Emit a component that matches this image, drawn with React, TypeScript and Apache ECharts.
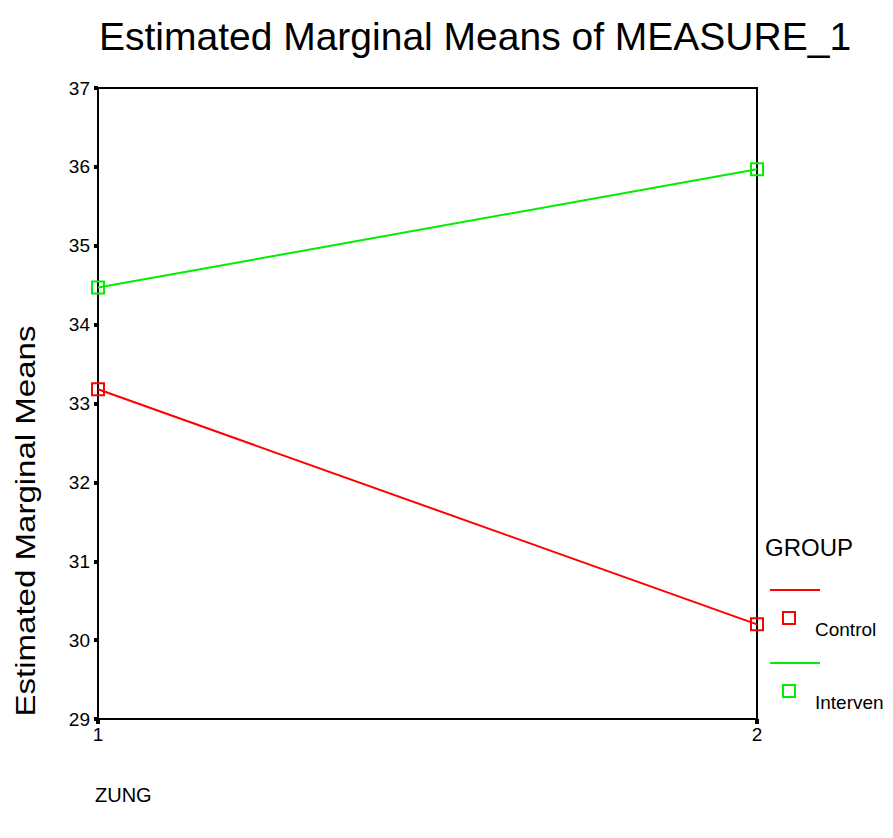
import React, { useEffect, useRef } from "react";
import * as echarts from "echarts";

const zungLevels = [1, 2];
const controlMeans = [33.18, 30.2];
const intervenMeans = [34.47, 35.97];
const yTicks = [29, 30, 31, 32, 33, 34, 35, 36, 37];
const groupNames = ["Control", "Interven"];
const groupColors = ["#ff0000", "#00ee00"];

const FONT = "'Liberation Sans', Arial, sans-serif";

export default function App() {
  const ref = useRef<HTMLDivElement>(null);
  useEffect(() => {
    if (!ref.current) return;
    const chart = echarts.init(ref.current, null, { renderer: "svg" });
    const seriesData = [controlMeans, intervenMeans];
    const legendGraphics: any[] = [
      {
        type: "text",
        left: 765,
        top: 535,
        style: { text: "GROUP", font: `24px ${FONT}`, fill: "#000" },
      },
    ];
    groupNames.forEach((g, i) => {
      const base = 590 + i * 73;
      legendGraphics.push(
        {
          type: "line",
          shape: { x1: 770, y1: base, x2: 820, y2: base },
          style: { stroke: groupColors[i], lineWidth: 2 },
        },
        {
          type: "rect",
          shape: { x: 783, y: base + 22, width: 12, height: 12 },
          style: { stroke: groupColors[i], fill: "none", lineWidth: 2 },
        },
        {
          type: "text",
          left: 815,
          top: base + 30,
          style: { text: g, font: `19px ${FONT}`, fill: "#000" },
        }
      );
    });

    chart.setOption({
      animation: false,
      backgroundColor: "#fff",
      title: {
        text: "Estimated Marginal Means of MEASURE_1",
        left: 470,
        textAlign: "center",
        top: 12,
        textStyle: { fontFamily: FONT, fontSize: 39, fontWeight: "normal", color: "#000" },
      },
      grid: {
        left: 98,
        right: 136,
        top: 88,
        bottom: 119,
        show: true,
        borderColor: "#000",
        borderWidth: 2,
        backgroundColor: "transparent",
      },
      xAxis: {
        type: "value",
        min: 1,
        max: 2,
        interval: 1,
        axisLine: { show: true, lineStyle: { color: "#000", width: 2 } },
        axisTick: { show: true, length: 5, lineStyle: { color: "#000", width: 4 } },
        axisLabel: { fontFamily: FONT, fontSize: 19, color: "#000", margin: 6 },
        splitLine: { show: false },
      },
      yAxis: {
        type: "value",
        min: yTicks[0],
        max: yTicks[yTicks.length - 1],
        interval: 1,
        axisLine: { show: true, lineStyle: { color: "#000", width: 2 } },
        axisTick: { show: true, length: 4, lineStyle: { color: "#000", width: 4 } },
        axisLabel: { fontFamily: FONT, fontSize: 19, color: "#000", margin: 8 },
        splitLine: { show: false },
      },
      series: groupNames.map((g, i) => ({
        name: g,
        type: "line",
        data: zungLevels.map((z, j) => [z, seriesData[i][j]]),
        symbol: "rect",
        symbolSize: 12,
        showAllSymbol: true,
        lineStyle: { color: groupColors[i], width: 2 },
        itemStyle: { color: "transparent", borderColor: groupColors[i], borderWidth: 2 },
        z: 3,
      })),
      graphic: [
        {
          type: "text",
          x: 25,
          y: 521,
          rotation: Math.PI / 2,
          scaleX: 1.18,
          style: {
            text: "Estimated Marginal Means",
            font: `28px ${FONT}`,
            fill: "#000",
            align: "center",
            verticalAlign: "middle",
          },
        },
        {
          type: "text",
          left: 95,
          top: 785,
          style: { text: "ZUNG", font: `20px ${FONT}`, fill: "#000" },
        },
        ...legendGraphics,
      ],
    });
    return () => chart.dispose();
  }, []);
  return (
    <div
      ref={ref}
      style={{ position: "absolute", left: 0, top: 0, width: 893, height: 838 }}
    />
  );
}
